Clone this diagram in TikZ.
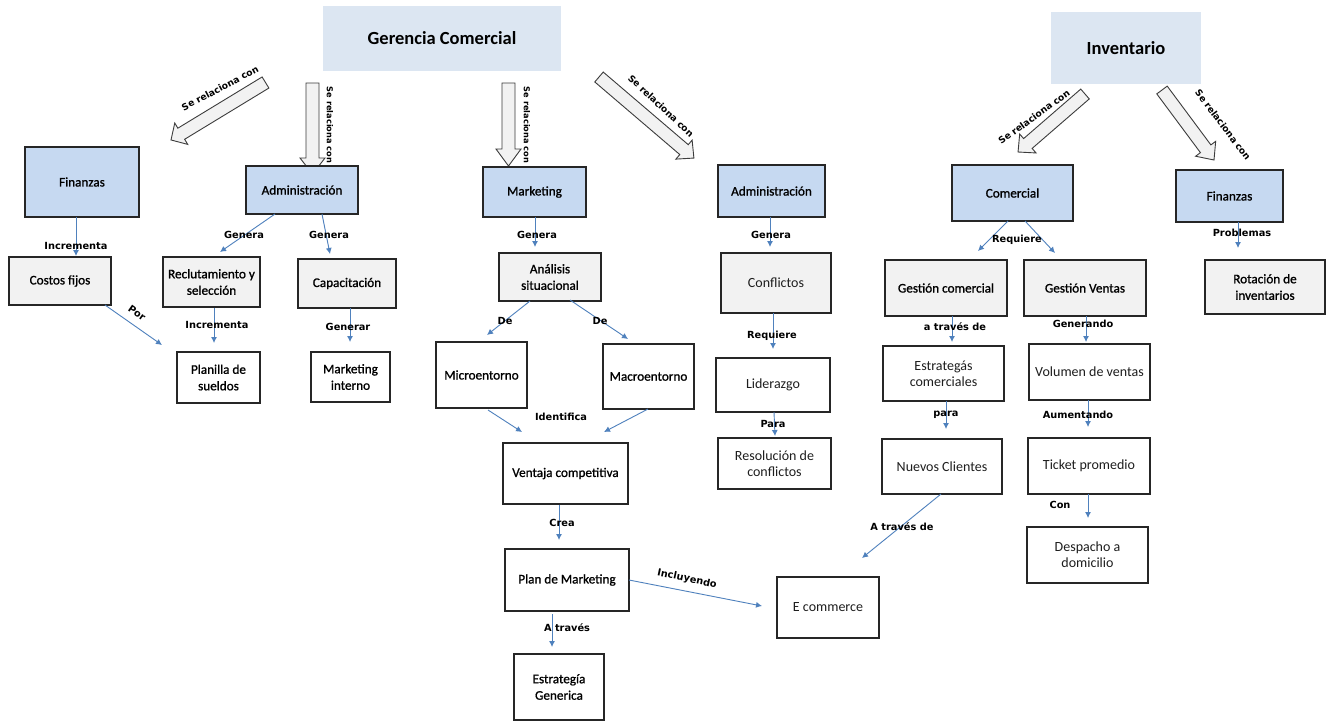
\documentclass[tikz,border=0pt]{standalone}
\usepackage{fontspec}
\setmainfont{Carlito}
\newfontfamily\medfont{Carlito}[FakeBold=1.0]
\newfontfamily\lblfont{DejaVu Sans}
\usetikzlibrary{arrows.meta}
\definecolor{boxblue}{HTML}{C6D9F1}
\definecolor{titleblue}{HTML}{DCE6F2}
\definecolor{boxgray}{HTML}{F2F2F2}
\definecolor{connblue}{HTML}{4F81BD}
\definecolor{edgecol}{HTML}{262626}
\definecolor{lighttext}{HTML}{1E1E1E}
% block arrow: tail x, tail y, angle, length, head length
\newcommand{\blkarrow}[5]{%
  \begin{scope}[shift={(#1,#2)},rotate=#3]
    \draw[blockarr] (0,-6.5) -- ({#4-#5},-6.5) -- ({#4-#5},-12.5) -- (#4,0)
      -- ({#4-#5},12.5) -- ({#4-#5},6.5) -- (0,6.5) -- cycle;
  \end{scope}}
\begin{document}
\begin{tikzpicture}[x=1pt,y=-1pt,
  sz/.style n args={2}{minimum width=#1pt, minimum height=#2pt},
  box/.style={draw=edgecol, line width=1.1pt, inner sep=1pt, outer sep=0pt, align=center,
    font=\medfont\fontsize{13.2}{16.5}\selectfont},
  bluebox/.style={box, fill=boxblue},
  graybox/.style={box, fill=boxgray},
  whitebox/.style={box, fill=white},
  lt/.style={text=lighttext, font=\normalfont\fontsize{14}{16}\selectfont},
  titlebox/.style={fill=titleblue, inner sep=0pt, outer sep=0pt,
    font=\bfseries\fontsize{18.5}{22}\selectfont},
  conn/.style={draw=connblue, line width=0.9pt, -{Latex[length=6pt,width=6pt]}},
  lbl/.style={font=\lblfont\bfseries\fontsize{9.8}{11}\selectfont, inner sep=0pt},
  rlbl/.style={font=\lblfont\bfseries\fontsize{9.2}{10}\selectfont, inner sep=0pt},
  vlbl/.style={font=\lblfont\bfseries\fontsize{8.2}{10}\selectfont, inner sep=0pt, rotate=-90},
  blockarr/.style={draw=edgecol!90, line width=0.9pt, fill=boxgray, line join=miter}
]
\useasboundingbox[fill=white] (0,0) rectangle (1332,721);

% ---- block arrows ----
\blkarrow{265.5}{82.5}{211.3}{110.6}{12}
\blkarrow{312.5}{83}{-90}{91}{16}
\blkarrow{508.5}{83}{-90}{83}{17}
\blkarrow{599}{77}{-40.5}{124.8}{13}
\blkarrow{1085}{94}{220.9}{88.6}{13}
\blkarrow{1162}{90}{-53.4}{87.2}{14}

\node[rlbl, rotate=28] (r1) at (220,88) {Se relaciona con};
\node[vlbl] (r2) at (330,125) {Se relaciona con};
\node[vlbl] (r3) at (527,125) {Se relaciona con};
\node[rlbl, rotate=-43] (r4) at (661,106) {Se relaciona con};
\node[rlbl, rotate=36] (r5) at (1034,117) {Se relaciona con};
\node[rlbl, rotate=-53] (r6) at (1223,125) {Se relaciona con};

% ---- titles ----
\node[titlebox, sz={238}{65}] (gc) at (442,38.5) {Gerencia Comercial};
\node[titlebox, sz={150}{72}] (inv) at (1126,48) {Inventario};

% ---- blue boxes ----
\node[bluebox, sz={114}{70}] (fin1) at (82,182) {Finanzas};
\node[bluebox, sz={112}{48}] (adm1) at (302,190) {Administración};
\node[bluebox, sz={103}{50}] (mkt) at (534.5,192) {Marketing};
\node[bluebox, sz={107}{52}] (adm2) at (771.5,191) {Administración};
\node[bluebox, sz={121}{56}] (com) at (1012.5,193) {Comercial};
\node[bluebox, sz={107}{52}] (fin2) at (1229.5,196) {Finanzas};

% ---- gray boxes ----
\node[graybox, sz={102}{48}] (costos) at (60,281) {Costos fijos};
\node[graybox, sz={97}{50}] (recl) at (211.5,282) {Reclutamiento y\\selección};
\node[graybox, sz={98}{49}] (capa) at (347,283.5) {Capacitación};
\node[graybox, sz={102}{48}] (anal) at (550,277) {Análisis\\situacional};
\node[graybox, lt, sz={110}{60}] (confl) at (776,283) {Conflictos};
\node[graybox, sz={122}{56}] (gcom) at (946,288) {Gestión comercial};
\node[graybox, sz={122}{56}] (gven) at (1085,288) {Gestión Ventas};
\node[graybox, sz={120}{54}] (rot) at (1265,287) {Rotación de\\inventarios};

% ---- white boxes ----
\node[whitebox, sz={83}{51}] (plan) at (218.5,377.5) {Planilla de\\sueldos};
\node[whitebox, sz={79}{50}] (mint) at (350.5,377) {Marketing\\interno};
\node[whitebox, sz={91}{66}] (micro) at (481.5,375) {Microentorno};
\node[whitebox, sz={91}{65}] (macro) at (648.5,376.5) {Macroentorno};
\node[whitebox, lt, sz={114}{54}] (lid) at (773,385) {Liderazgo};
\node[whitebox, lt, sz={113}{51}] (resol) at (774.5,463.5) {Resolución de\\conflictos};
\node[whitebox, sz={125}{61}] (vent) at (565.5,473.5) {Ventaja competitiva};
\node[whitebox, sz={124}{62}] (planm) at (567,580) {Plan de Marketing};
\node[whitebox, sz={90}{66}] (estg) at (559,687) {Estrategía\\Generica};
\node[whitebox, lt, sz={102}{61}] (ecom) at (828,607.5) {E commerce};
\node[whitebox, lt, sz={121}{55}] (estc) at (943.5,373.5) {Estrategás\\comerciales};
\node[whitebox, lt, sz={121}{56}] (vol) at (1089.5,372) {Volumen de ventas};
\node[whitebox, lt, sz={120}{55}] (nuevos) at (942,466.5) {Nuevos Clientes};
\node[whitebox, lt, sz={122}{56}] (ticket) at (1089,466) {Ticket promedio};
\node[whitebox, lt, sz={121}{56}] (desp) at (1087.5,555) {Despacho a\\domicilio};

% ---- connectors ----
\draw[conn] ([xshift=-6pt]fin1.south) -- ([shift={(16,-1)}]costos.north);
\draw[conn] ([xshift=-27pt]adm1.south) -- ([shift={(8.5,-5)}]recl.north);
\draw[conn] ([xshift=20pt]adm1.south) -- ([shift={(-17,-5)}]capa.north);
\draw[conn] ([xshift=-6pt]costos.south east) -- ([shift={(-15,-7)}]plan.north west);
\draw[conn] ([shift={(2.5,1)}]recl.south) -- ([shift={(-4.5,-9)}]plan.north);
\draw[conn] ([xshift=3pt]capa.south) -- ([shift={(-0.5,-10)}]mint.north);
\draw[conn] ([xshift=0.5pt]mkt.south) -- ([shift={(-15,-6)}]anal.north);
\draw[conn] ([xshift=-20pt]anal.south) -- ([shift={(5.5,-7)}]micro.north);
\draw[conn] ([shift={(20,-1)}]anal.south) -- ([shift={(-20.5,-5)}]macro.north);
\draw[conn] ([shift={(6.5,2)}]micro.south) -- ([shift={(-43.5,-11)}]vent.north);
\draw[conn] ([xshift=-0.5pt]macro.south) -- ([shift={(38.5,-11)}]vent.north);
\draw[conn] ([xshift=-1.5pt]adm2.south) -- ([shift={(-6,-6)}]confl.north);
\draw[conn] ([xshift=-3pt]confl.south) -- ([shift={(0,-9)}]lid.north);
\draw[conn] ([xshift=1pt]lid.south) -- ([shift={(0.5,-2)}]resol.north);
\draw[conn] ([shift={(-6.5,1)}]vent.south) -- ([shift={(-8,-9)}]planm.north);
\draw[conn] ([shift={(-15,3)}]planm.south) -- ([shift={(-7,-7)}]estg.north);
\draw[conn] (planm.east) -- ([shift={(-15,-1.5)}]ecom.west);
\draw[conn] ([xshift=-1pt]nuevos.south) -- ([shift={(-17,-19)}]ecom.north east);
\draw[conn] ([xshift=-4.5pt]com.south) -- ([shift={(32,-9)}]gcom.north);
\draw[conn] ([xshift=12.5pt]com.south) -- ([shift={(-30,-7)}]gven.north);
\draw[conn] ([xshift=6pt]gcom.south) -- ([shift={(8.5,-4)}]estc.north);
\draw[conn] ([xshift=1pt]gven.south) -- ([shift={(-3.5,-2)}]vol.north);
\draw[conn] ([xshift=2.5pt]estc.south) -- ([shift={(4,-10)}]nuevos.north);
\draw[conn] ([xshift=-1.5pt]vol.south) -- ([shift={(-1,-11)}]ticket.north);
\draw[conn] ([xshift=-1pt]ticket.south) -- ([shift={(0.5,-9)}]desp.north);
\draw[conn] ([xshift=8.5pt]fin2.south) -- ([shift={(-27,-12)}]rot.north);

% ---- connector labels ----
\node[lbl] (l1) at (76,246) {Incrementa};
\node[lbl] (l2) at (244,235) {Genera};
\node[lbl] (l3) at (329,235) {Genera};
\node[lbl, rotate=-35] (l4) at (137,313) {Por};
\node[lbl] (l5) at (217,325) {Incrementa};
\node[lbl] (l6) at (348,327) {Generar};
\node[lbl] (l7) at (537,235) {Genera};
\node[lbl] (l8) at (505,321) {De};
\node[lbl] (l9) at (600,321) {De};
\node[lbl] (l10) at (561,417) {Identifica};
\node[lbl] (l11) at (771,235) {Genera};
\node[lbl] (l12) at (772,336) {Requiere};
\node[lbl] (l13) at (773,424) {Para};
\node[lbl] (l14) at (562,523) {Crea};
\node[lbl] (l15) at (567,628) {A través};
\node[lbl, rotate=-12] (l16) at (687,579) {Incluyendo};
\node[lbl] (l17) at (902,527) {A través de};
\node[lbl] (l18) at (1017,240) {Requiere};
\node[lbl] (l19) at (955,327) {a través de};
\node[lbl] (l20) at (1083,324) {Generando};
\node[lbl] (l21) at (946,415) {para};
\node[lbl] (l22) at (1078,415) {Aumentando};
\node[lbl] (l23) at (1060,505) {Con};
\node[lbl] (l24) at (1242,233) {Problemas};
\end{tikzpicture}
\end{document}
